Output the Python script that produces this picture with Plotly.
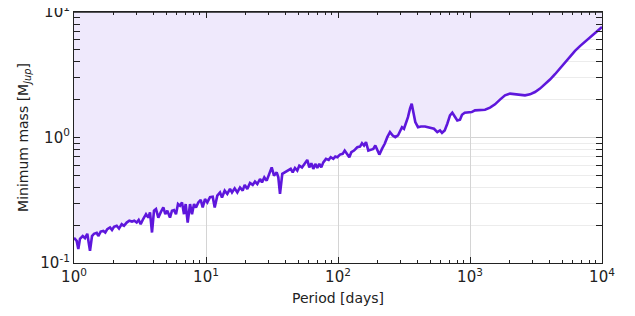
import plotly.graph_objects as go

period_days = [1.00, 1.048, 1.078, 1.110, 1.164, 1.211, 1.261, 1.322, 1.369, 1.418, 1.486, 1.528, 1.593, 1.667, 1.726, 1.788, 1.874, 1.941, 2.009, 2.106,
               2.193, 2.298, 2.392, 2.507, 2.624, 2.750, 2.862, 2.985, 3.091, 3.200, 3.350, 3.512, 3.655, 3.765, 3.899, 4.037, 4.180, 4.352, 4.537, 4.750,
               4.917, 5.092, 5.336, 5.525, 5.722, 5.925, 6.135, 6.353, 6.578, 6.813, 7.015, 7.266, 7.568, 7.835, 8.113, 8.402, 8.744, 9.120, 9.441, 9.826,
               10.23, 10.72, 11.24, 11.64, 12.18, 12.77, 13.22, 13.86, 14.50, 15.20, 15.74, 16.49, 17.27, 18.10, 18.97, 19.64, 20.55, 21.54, 22.58, 23.50,
               24.47, 25.65, 26.56, 27.66, 28.84, 30.18, 31.45, 32.74, 34.32, 35.30, 36.36, 37.84, 39.65, 41.8, 43.83, 45.39, 47.22, 49.17, 50.93, 53.36,
               55.96, 58.5, 60.6, 62.8, 65.0, 67.3, 69.7, 72.2, 74.7, 77.4, 81.1, 85.0, 88.1, 92.1, 95.4, 98.8, 103.5, 108.5, 112.4, 116.4,
               121.8, 126.2, 132.2, 140.0, 146.8, 152.0, 157.4, 163.0, 169.7, 176.9, 185.1, 191.7, 198.5, 205.6, 215.4, 225.9, 236.3, 247.7, 259.7, 271.7,
               284.8, 294.9, 305.3, 316.2, 327.4, 338.9, 351.2, 361.7, 372.0, 385.1, 403.6, 425.5, 456.0, 497.7, 533.7, 565.3, 592.6, 613.6, 643.1, 673.0,
               705.5, 734.5, 765.6, 801.4, 840.0, 869.9, 912.0, 970.8, 1030, 1091, 1191, 1299, 1418, 1547, 1687, 1841, 2009, 2193, 2392, 2611,
               2848, 3108, 3390, 3700, 4036, 4406, 4808, 5245, 5722, 6245, 6808, 7430, 8110, 8850, 9660, 10000]

min_mass_mjup = [0.159, 0.150, 0.129, 0.156, 0.164, 0.158, 0.171, 0.125, 0.164, 0.171, 0.174, 0.164, 0.178, 0.180, 0.175, 0.186, 0.192, 0.183, 0.194, 0.198,
                 0.188, 0.204, 0.198, 0.210, 0.217, 0.214, 0.217, 0.210, 0.220, 0.204, 0.225, 0.245, 0.230, 0.253, 0.175, 0.261, 0.269, 0.230, 0.253, 0.277,
                 0.245, 0.261, 0.230, 0.261, 0.264, 0.245, 0.295, 0.286, 0.304, 0.245, 0.295, 0.210, 0.295, 0.245, 0.295, 0.277, 0.304, 0.318, 0.277, 0.323,
                 0.304, 0.335, 0.337, 0.277, 0.344, 0.365, 0.333, 0.377, 0.355, 0.389, 0.365, 0.393, 0.365, 0.400, 0.377, 0.419, 0.389, 0.434, 0.419, 0.445,
                 0.426, 0.467, 0.439, 0.481, 0.453, 0.513, 0.578, 0.497, 0.527, 0.481, 0.355, 0.513, 0.530, 0.545, 0.562, 0.527, 0.572, 0.545, 0.597, 0.578,
                 0.616, 0.663, 0.578, 0.623, 0.562, 0.616, 0.572, 0.616, 0.578, 0.634, 0.676, 0.663, 0.696, 0.676, 0.705, 0.696, 0.731, 0.741, 0.787, 0.741,
                 0.696, 0.763, 0.787, 0.836, 0.847, 0.900, 0.863, 0.917, 0.787, 0.797, 0.812, 0.863, 0.787, 0.731, 0.812, 0.891, 1.006, 1.103, 1.038, 1.006,
                 1.038, 1.138, 1.209, 1.174, 1.287, 1.453, 1.697, 1.861, 1.594, 1.326, 1.209, 1.225, 1.225, 1.196, 1.174, 1.103, 1.138, 1.090, 1.138, 1.287,
                 1.500, 1.576, 1.472, 1.368, 1.386, 1.519, 1.576, 1.576, 1.594, 1.644, 1.644, 1.666, 1.728, 1.837, 2.003, 2.168, 2.237, 2.208, 2.168, 2.168,
                 2.208, 2.304, 2.453, 2.655, 2.895, 3.192, 3.545, 4.003, 4.446, 4.901, 5.346, 5.786, 6.276, 6.830, 7.406, 7.586]

x_tick_vals = [1, 10, 100, 1000, 10000]
x_tick_text = ["10<sup>0</sup>", "10<sup>1</sup>", "10<sup>2</sup>", "10<sup>3</sup>", "10<sup>4</sup>"]
x_minor_vals = [2, 3, 4, 5, 6, 7, 8, 9, 20, 30, 40, 50, 60, 70, 80, 90,
                200, 300, 400, 500, 600, 700, 800, 900, 2000, 3000, 4000, 5000, 6000, 7000, 8000, 9000]
y_tick_vals = [0.1, 1, 10]
y_tick_text = ["10<sup>-1</sup>", "10<sup>0</sup>", "10<sup>1</sup>"]
y_minor_vals = [0.2, 0.3, 0.4, 0.5, 0.6, 0.7, 0.8, 0.9, 2, 3, 4, 5, 6, 7, 8, 9]
y_top = 10

line_color = "#5e17dc"
fill_color = "rgba(239,233,252,1)"
font_family = "DejaVu Sans"
ink = "#222222"

fig = go.Figure()
fig.add_trace(go.Scatter(x=period_days, y=min_mass_mjup, mode="lines",
                         line=dict(width=0, color=line_color), hoverinfo="skip", showlegend=False))
fig.add_trace(go.Scatter(x=period_days, y=[y_top] * len(period_days), mode="lines",
                         line=dict(width=0, color=fill_color), fill="tonexty", fillcolor=fill_color,
                         hoverinfo="skip", showlegend=False))
fig.add_trace(go.Scatter(x=period_days, y=min_mass_mjup, mode="lines", xaxis="x2", yaxis="y",
                         line=dict(width=2.6, color=line_color), showlegend=False))

axis_common = dict(
    type="log", showline=True, linecolor=ink, linewidth=1.2, mirror="allticks",
    ticks="inside", ticklen=6, tickcolor=ink, tickwidth=1, automargin=False,
    ticklabeloverflow="allow",
    showgrid=True, gridcolor="#d4d4d4", gridwidth=1, zeroline=False,
    tickfont=dict(family=font_family, size=15, color=ink),
)

fig.update_layout(
    xaxis=dict(**axis_common, range=[0, 4], tickmode="array", tickvals=x_tick_vals, ticktext=x_tick_text,
               minor=dict(tickmode="array", tickvals=x_minor_vals, ticks="inside", ticklen=3, tickcolor=ink, showgrid=False),
               title=dict(text="Period [days]", font=dict(family=font_family, size=14, color=ink), standoff=8)),
    xaxis2=dict(type="log", range=[0, 4], overlaying="x", side="top", anchor="y", matches="x",
                showline=True, linecolor=ink, linewidth=1.2, showgrid=False, zeroline=False,
                ticks="inside", ticklen=6, tickcolor=ink, tickwidth=1, showticklabels=False,
                tickmode="array", tickvals=x_tick_vals,
                minor=dict(tickmode="array", tickvals=x_minor_vals, ticks="inside", ticklen=3, tickcolor=ink, showgrid=False)),
    yaxis=dict(**axis_common, range=[-1, 1], tickmode="array", tickvals=y_tick_vals, ticktext=y_tick_text,
               minor=dict(tickmode="array", tickvals=y_minor_vals, ticks="inside", ticklen=3, tickcolor=ink,
                          showgrid=True, gridcolor="#ececec"),
               title=dict(text="Minimum mass [M<sub><i>Jup</i></sub>]", font=dict(family=font_family, size=14, color=ink), standoff=8)),
    # top frame edge as a thin filled band
    shapes=[dict(type="rect", xref="paper", yref="paper", x0=0, y0=0.997, x1=1, y1=1.003,
                 fillcolor=ink, line=dict(width=0), layer="above")],
    # page body has an 8px default margin, so the figure is slightly smaller to stay in the window
    width=627, height=308, margin=dict(l=66, r=33, t=4, b=53),
    paper_bgcolor="white", plot_bgcolor="white",
)

fig.write_html("out.html")
